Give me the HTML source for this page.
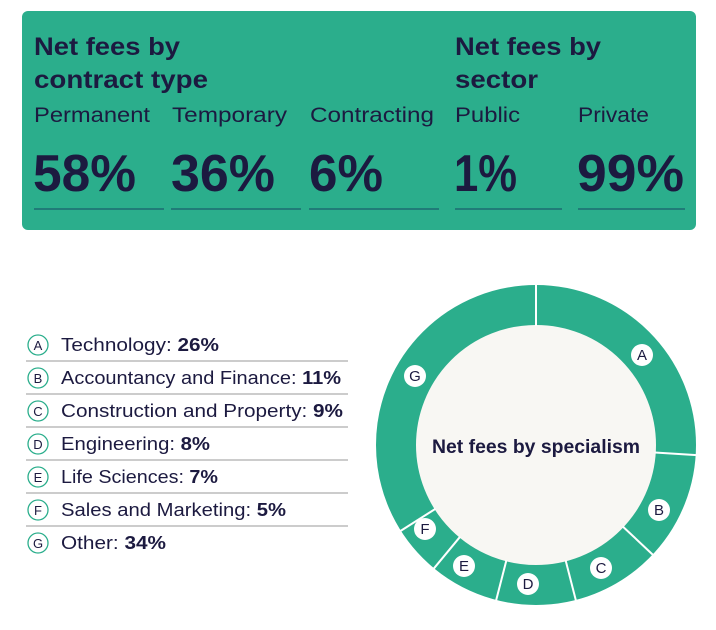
<!DOCTYPE html>
<html><head><meta charset="utf-8"><style>
html,body{margin:0;padding:0;background:#fff;}
svg{display:block;font-family:"Liberation Sans",Arial,sans-serif;}
</style></head><body>
<svg width="716" height="630" viewBox="0 0 716 630" xmlns="http://www.w3.org/2000/svg">
<rect x="22" y="11" width="674" height="219" rx="6" fill="#2bae8c"/>
<g fill="#1c1a40">
<text x="34" y="55" font-size="25" font-weight="bold" textLength="146" lengthAdjust="spacingAndGlyphs">Net fees by</text>
<text x="34" y="88" font-size="25" font-weight="bold" textLength="174" lengthAdjust="spacingAndGlyphs">contract type</text>
<text x="455" y="55" font-size="25" font-weight="bold" textLength="146" lengthAdjust="spacingAndGlyphs">Net fees by</text>
<text x="455" y="88" font-size="25" font-weight="bold" textLength="83" lengthAdjust="spacingAndGlyphs">sector</text>
<g font-size="21.5">
<text x="34" y="122" textLength="116" lengthAdjust="spacingAndGlyphs">Permanent</text>
<text x="172" y="122" textLength="115" lengthAdjust="spacingAndGlyphs">Temporary</text>
<text x="310" y="122" textLength="124" lengthAdjust="spacingAndGlyphs">Contracting</text>
<text x="455" y="122" textLength="65" lengthAdjust="spacingAndGlyphs">Public</text>
<text x="578" y="122" textLength="71" lengthAdjust="spacingAndGlyphs">Private</text>
</g>
<g font-size="52" font-weight="bold">
<text x="33" y="191" textLength="103" lengthAdjust="spacingAndGlyphs">58%</text>
<text x="171" y="191" textLength="104" lengthAdjust="spacingAndGlyphs">36%</text>
<text x="309" y="191" textLength="74" lengthAdjust="spacingAndGlyphs">6%</text>
<text x="454" y="191" textLength="63" lengthAdjust="spacingAndGlyphs">1%</text>
<text x="577" y="191" textLength="107" lengthAdjust="spacingAndGlyphs">99%</text>
</g>
</g>
<g stroke="#1d6a72" stroke-width="1.5">
<line x1="34" y1="209" x2="164" y2="209"/>
<line x1="171" y1="209" x2="301" y2="209"/>
<line x1="309" y1="209" x2="439" y2="209"/>
<line x1="455" y1="209" x2="562" y2="209"/>
<line x1="578" y1="209" x2="685" y2="209"/>
</g>

<g stroke="#999" stroke-width="1">
<line x1="26" y1="361" x2="348" y2="361"/>
<line x1="26" y1="394" x2="348" y2="394"/>
<line x1="26" y1="427" x2="348" y2="427"/>
<line x1="26" y1="460" x2="348" y2="460"/>
<line x1="26" y1="493" x2="348" y2="493"/>
<line x1="26" y1="526" x2="348" y2="526"/>
</g>
<g fill="#fff" stroke="#2bae8c" stroke-width="1.3">
<circle cx="38" cy="345" r="10"/><circle cx="38" cy="378" r="10"/><circle cx="38" cy="411" r="10"/>
<circle cx="38" cy="444" r="10"/><circle cx="38" cy="477" r="10"/><circle cx="38" cy="510" r="10"/><circle cx="38" cy="543" r="10"/>
</g>
<g fill="#1c1a40" font-size="13" text-anchor="middle">
<text x="38" y="350">A</text><text x="38" y="383">B</text><text x="38" y="416">C</text><text x="38" y="449">D</text>
<text x="38" y="482">E</text><text x="38" y="515">F</text><text x="38" y="548">G</text>
</g>
<g fill="#1c1a40" font-size="18.5">
<text x="61" y="351" textLength="158" lengthAdjust="spacingAndGlyphs">Technology: <tspan font-weight="bold">26%</tspan></text>
<text x="61" y="384" textLength="280" lengthAdjust="spacingAndGlyphs">Accountancy and Finance: <tspan font-weight="bold">11%</tspan></text>
<text x="61" y="417" textLength="282" lengthAdjust="spacingAndGlyphs">Construction and Property: <tspan font-weight="bold">9%</tspan></text>
<text x="61" y="450" textLength="149" lengthAdjust="spacingAndGlyphs">Engineering: <tspan font-weight="bold">8%</tspan></text>
<text x="61" y="483" textLength="157" lengthAdjust="spacingAndGlyphs">Life Sciences: <tspan font-weight="bold">7%</tspan></text>
<text x="61" y="516" textLength="225" lengthAdjust="spacingAndGlyphs">Sales and Marketing: <tspan font-weight="bold">5%</tspan></text>
<text x="61" y="549" textLength="105" lengthAdjust="spacingAndGlyphs">Other: <tspan font-weight="bold">34%</tspan></text>
</g>

<circle cx="536" cy="445" r="140" fill="#f8f7f3" stroke="#2bae8c" stroke-width="40"/>
<g stroke="#fff" stroke-width="2">
<line x1="536" y1="284" x2="536" y2="326" transform="rotate(0 536 445)"/>
<line x1="536" y1="284" x2="536" y2="326" transform="rotate(93.6 536 445)"/>
<line x1="536" y1="284" x2="536" y2="326" transform="rotate(133.2 536 445)"/>
<line x1="536" y1="284" x2="536" y2="326" transform="rotate(165.6 536 445)"/>
<line x1="536" y1="284" x2="536" y2="326" transform="rotate(194.4 536 445)"/>
<line x1="536" y1="284" x2="536" y2="326" transform="rotate(219.6 536 445)"/>
<line x1="536" y1="284" x2="536" y2="326" transform="rotate(237.6 536 445)"/>
</g>
<g fill="#fff">
<circle cx="642" cy="355" r="11"/><circle cx="659" cy="510" r="11"/><circle cx="601" cy="568" r="11"/>
<circle cx="528" cy="584" r="11"/><circle cx="464" cy="566" r="11"/><circle cx="425" cy="529" r="11"/><circle cx="415" cy="376" r="11"/>
</g>
<g fill="#1c1a40" font-size="15" text-anchor="middle">
<text x="642" y="360">A</text><text x="659" y="515">B</text><text x="601" y="573">C</text>
<text x="528" y="589">D</text><text x="464" y="571">E</text><text x="425" y="534">F</text><text x="415" y="381">G</text>
</g>
<text x="432" y="453" font-size="19" font-weight="bold" fill="#1c1a40" textLength="208" lengthAdjust="spacingAndGlyphs">Net fees by specialism</text>
</svg>
</body></html>
